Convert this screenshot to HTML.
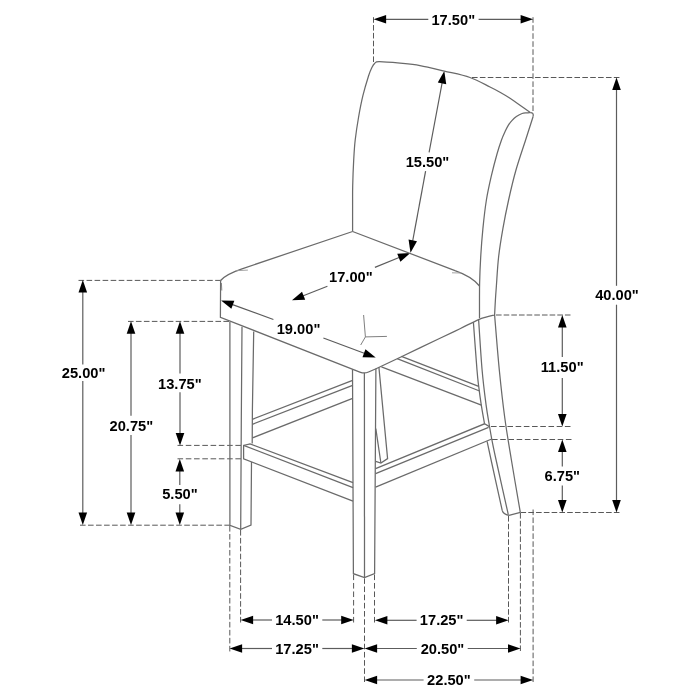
<!DOCTYPE html>
<html><head><meta charset="utf-8"><style>
html,body{margin:0;padding:0;background:#fff;}
body{width:700px;height:700px;overflow:hidden;font-family:"Liberation Sans",sans-serif;}
svg{display:block;}
svg{will-change:transform;}
</style></head><body>
<svg width="700" height="700" viewBox="0 0 700 700">
<rect width="700" height="700" fill="#fff"/>
<line x1="373.5" y1="17.2" x2="373.5" y2="62" stroke="#585858" stroke-width="1.0" stroke-dasharray="5.6 2.24"/>
<line x1="533" y1="17.2" x2="533" y2="111" stroke="#585858" stroke-width="1.0" stroke-dasharray="5.6 2.42"/>
<line x1="472" y1="77.5" x2="619.5" y2="77.5" stroke="#585858" stroke-width="1.0" stroke-dasharray="5.6 2.28"/>
<line x1="520.5" y1="512.5" x2="619.5" y2="512.5" stroke="#585858" stroke-width="1.0" stroke-dasharray="5.6 2.18"/>
<line x1="496" y1="315" x2="570.5" y2="315" stroke="#585858" stroke-width="1.0" stroke-dasharray="5.6 2.06"/>
<line x1="491" y1="426.5" x2="570.5" y2="426.5" stroke="#585858" stroke-width="1.0" stroke-dasharray="5.6 2.61"/>
<line x1="492" y1="439.5" x2="571.5" y2="439.5" stroke="#585858" stroke-width="1.0" stroke-dasharray="5.6 2.61"/>
<line x1="78.5" y1="280.4" x2="220.8" y2="280.4" stroke="#585858" stroke-width="1.0" stroke-dasharray="5.6 2.44"/>
<line x1="128" y1="321.4" x2="229" y2="321.4" stroke="#585858" stroke-width="1.0" stroke-dasharray="5.6 2.35"/>
<line x1="177.5" y1="445.4" x2="241" y2="445.4" stroke="#585858" stroke-width="1.0" stroke-dasharray="5.6 2.67"/>
<line x1="177.5" y1="458.8" x2="241" y2="458.8" stroke="#585858" stroke-width="1.0" stroke-dasharray="5.6 2.67"/>
<line x1="80" y1="525.2" x2="230" y2="525.2" stroke="#585858" stroke-width="1.0" stroke-dasharray="5.6 2.42"/>
<line x1="229.8" y1="526" x2="229.8" y2="651.5" stroke="#585858" stroke-width="1.0" stroke-dasharray="5.6 2.39"/>
<line x1="240.6" y1="530" x2="240.6" y2="622.5" stroke="#585858" stroke-width="1.0" stroke-dasharray="5.6 2.3"/>
<line x1="353.6" y1="574.5" x2="353.6" y2="622.5" stroke="#585858" stroke-width="1.0" stroke-dasharray="5.6 2.88"/>
<line x1="364.5" y1="578.3" x2="364.5" y2="682" stroke="#585858" stroke-width="1.0" stroke-dasharray="5.6 2.58"/>
<line x1="374.5" y1="574.5" x2="374.5" y2="622.5" stroke="#585858" stroke-width="1.0" stroke-dasharray="5.6 2.88"/>
<line x1="508.5" y1="516" x2="508.5" y2="622.5" stroke="#585858" stroke-width="1.0" stroke-dasharray="5.6 2.16"/>
<line x1="520.4" y1="513" x2="520.4" y2="651" stroke="#585858" stroke-width="1.0" stroke-dasharray="5.6 2.19"/>
<line x1="533.1" y1="509.5" x2="533.1" y2="682" stroke="#585858" stroke-width="1.0" stroke-dasharray="5.6 2.35"/>
<g font-family="Liberation Sans, sans-serif" font-weight="bold" font-size="14.67" fill="#000" text-anchor="middle">
<line x1="385.1" y1="19.3" x2="428.3" y2="19.3" stroke="#5c5c5c" stroke-width="1.2"/>
<line x1="478.6" y1="19.3" x2="521.6" y2="19.3" stroke="#5c5c5c" stroke-width="1.2"/>
<polygon points="373.6,19.3 386.1,15 386.1,23.6" fill="#000"/>
<polygon points="533.1,19.3 520.6,23.6 520.6,15" fill="#000"/>
<text x="453.3" y="24.5">17.50&quot;</text>
<line x1="616.5" y1="88.9" x2="616.5" y2="285.8" stroke="#5c5c5c" stroke-width="1.2"/>
<line x1="616.5" y1="304.7" x2="616.5" y2="501" stroke="#5c5c5c" stroke-width="1.2"/>
<polygon points="616.5,77.4 620.8,89.9 612.2,89.9" fill="#000"/>
<polygon points="616.5,512.5 612.2,500 620.8,500" fill="#000"/>
<text x="617" y="300.3">40.00&quot;</text>
<line x1="442.2" y1="82.41" x2="429.1" y2="152.3" stroke="#5c5c5c" stroke-width="1.2"/>
<line x1="425.6" y1="171.1" x2="412.6" y2="241.39" stroke="#5c5c5c" stroke-width="1.2"/>
<polygon points="444.3,71.1 446.24,84.18 437.79,82.6" fill="#000"/>
<polygon points="410.5,252.7 408.56,239.62 417.01,241.2" fill="#000"/>
<text x="427.45" y="166.8">15.50&quot;</text>
<line x1="302.68" y1="296.03" x2="327.4" y2="286.3" stroke="#5c5c5c" stroke-width="1.2"/>
<line x1="374.9" y1="267.4" x2="399.72" y2="257.27" stroke="#5c5c5c" stroke-width="1.2"/>
<polygon points="292,300.3 302.01,291.67 305.2,299.66" fill="#000"/>
<polygon points="410.4,253 400.39,261.63 397.2,253.64" fill="#000"/>
<text x="350.85" y="282.2">17.00&quot;</text>
<line x1="231.89" y1="304.38" x2="273.4" y2="319.5" stroke="#5c5c5c" stroke-width="1.2"/>
<line x1="323.4" y1="338" x2="364.91" y2="353.52" stroke="#5c5c5c" stroke-width="1.2"/>
<polygon points="221.1,300.4 234.32,300.7 231.34,308.76" fill="#000"/>
<polygon points="375.7,357.5 362.48,357.2 365.46,349.14" fill="#000"/>
<text x="298.55" y="334.2">19.00&quot;</text>
<line x1="562.3" y1="326.5" x2="562.3" y2="357" stroke="#5c5c5c" stroke-width="1.2"/>
<line x1="562.3" y1="378" x2="562.3" y2="414.9" stroke="#5c5c5c" stroke-width="1.2"/>
<polygon points="562.3,315 566.6,327.5 558,327.5" fill="#000"/>
<polygon points="562.3,426.4 558,413.9 566.6,413.9" fill="#000"/>
<text x="562.2" y="372">11.50&quot;</text>
<line x1="562.3" y1="451" x2="562.3" y2="466.6" stroke="#5c5c5c" stroke-width="1.2"/>
<line x1="562.3" y1="485.4" x2="562.3" y2="501" stroke="#5c5c5c" stroke-width="1.2"/>
<polygon points="562.3,439.5 566.6,452 558,452" fill="#000"/>
<polygon points="562.3,512.5 558,500 566.6,500" fill="#000"/>
<text x="562.3" y="481">6.75&quot;</text>
<line x1="82.8" y1="291.6" x2="82.8" y2="364.6" stroke="#5c5c5c" stroke-width="1.2"/>
<line x1="82.8" y1="381.1" x2="82.8" y2="513.4" stroke="#5c5c5c" stroke-width="1.2"/>
<polygon points="82.8,280.1 87.1,292.6 78.5,292.6" fill="#000"/>
<polygon points="82.8,524.9 78.5,512.4 87.1,512.4" fill="#000"/>
<text x="83.6" y="377.7">25.00&quot;</text>
<line x1="131" y1="332.7" x2="131" y2="415.8" stroke="#5c5c5c" stroke-width="1.2"/>
<line x1="131" y1="435.1" x2="131" y2="513.4" stroke="#5c5c5c" stroke-width="1.2"/>
<polygon points="131,321.2 135.3,333.7 126.7,333.7" fill="#000"/>
<polygon points="131,524.9 126.7,512.4 135.3,512.4" fill="#000"/>
<text x="131.35" y="430.8">20.75&quot;</text>
<line x1="180" y1="332.7" x2="180" y2="373.4" stroke="#5c5c5c" stroke-width="1.2"/>
<line x1="180" y1="392.2" x2="180" y2="433.9" stroke="#5c5c5c" stroke-width="1.2"/>
<polygon points="180,321.2 184.3,333.7 175.7,333.7" fill="#000"/>
<polygon points="180,445.4 175.7,432.9 184.3,432.9" fill="#000"/>
<text x="179.85" y="388.6">13.75&quot;</text>
<line x1="179.8" y1="470.5" x2="179.8" y2="485" stroke="#5c5c5c" stroke-width="1.2"/>
<line x1="179.8" y1="504.3" x2="179.8" y2="513.6" stroke="#5c5c5c" stroke-width="1.2"/>
<polygon points="179.8,459 184.1,471.5 175.5,471.5" fill="#000"/>
<polygon points="179.8,525.1 175.5,512.6 184.1,512.6" fill="#000"/>
<text x="179.9" y="499.1">5.50&quot;</text>
<line x1="252.1" y1="620" x2="272" y2="620" stroke="#5c5c5c" stroke-width="1.2"/>
<line x1="322.3" y1="620" x2="342.2" y2="620" stroke="#5c5c5c" stroke-width="1.2"/>
<polygon points="240.6,620 253.1,615.7 253.1,624.3" fill="#000"/>
<polygon points="353.7,620 341.2,624.3 341.2,615.7" fill="#000"/>
<text x="297.05" y="625.3">14.50&quot;</text>
<line x1="241.1" y1="648.5" x2="272" y2="648.5" stroke="#5c5c5c" stroke-width="1.2"/>
<line x1="322.3" y1="648.5" x2="352.9" y2="648.5" stroke="#5c5c5c" stroke-width="1.2"/>
<polygon points="229.6,648.5 242.1,644.2 242.1,652.8" fill="#000"/>
<polygon points="364.4,648.5 351.9,652.8 351.9,644.2" fill="#000"/>
<text x="297.05" y="653.9">17.25&quot;</text>
<line x1="386.4" y1="620.3" x2="416.6" y2="620.3" stroke="#5c5c5c" stroke-width="1.2"/>
<line x1="466.7" y1="620.3" x2="497.1" y2="620.3" stroke="#5c5c5c" stroke-width="1.2"/>
<polygon points="374.9,620.3 387.4,616 387.4,624.6" fill="#000"/>
<polygon points="508.6,620.3 496.1,624.6 496.1,616" fill="#000"/>
<text x="441.65" y="624.9">17.25&quot;</text>
<line x1="376.1" y1="648.5" x2="416.8" y2="648.5" stroke="#5c5c5c" stroke-width="1.2"/>
<line x1="467.7" y1="648.5" x2="509" y2="648.5" stroke="#5c5c5c" stroke-width="1.2"/>
<polygon points="364.6,648.5 377.1,644.2 377.1,652.8" fill="#000"/>
<polygon points="520.5,648.5 508,652.8 508,644.2" fill="#000"/>
<text x="442.5" y="653.6">20.50&quot;</text>
<line x1="376.1" y1="680" x2="423.6" y2="680" stroke="#5c5c5c" stroke-width="1.2"/>
<line x1="474.2" y1="680" x2="521.6" y2="680" stroke="#5c5c5c" stroke-width="1.2"/>
<polygon points="364.6,680 377.1,675.7 377.1,684.3" fill="#000"/>
<polygon points="533.1,680 520.6,684.3 520.6,675.7" fill="#000"/>
<text x="448.9" y="685">22.50&quot;</text>
</g>
<path d="M352.6,231.5 C352.6,227.08 352.58,212.63 352.6,205 C352.62,197.37 352.52,193.2 352.7,185.7 C352.88,178.2 353.28,167.62 353.7,160 C354.12,152.38 354.38,147.17 355.2,140 C356.02,132.83 357.32,124.38 358.6,117 C359.88,109.62 361.23,102.58 362.9,95.7 C364.57,88.82 367.1,80.4 368.6,75.7 C370.1,71 370.9,69.53 371.9,67.5 C372.9,65.47 373.42,64.47 374.6,63.5 C375.78,62.53 374.77,61.75 379,61.7 C383.23,61.65 393.17,62.55 400,63.2 C406.83,63.85 412.62,64.28 420,65.6 C427.38,66.92 435.97,69.12 444.3,71.1 C452.63,73.08 462.38,74.85 470,77.5 C477.62,80.15 485,84.55 490,87 C495,89.45 496.67,90.33 500,92.2 C503.33,94.07 506.67,96.03 510,98.2 C513.33,100.37 516.62,102.8 520,105.2 C523.38,107.6 528.58,111.37 530.3,112.6" stroke="#6a6a6a" stroke-width="1.25" fill="none" />
<path d="M530.3,112.6 C529.7,112.65 528.07,112.75 526.7,112.9 C525.33,113.05 523.82,112.88 522.1,113.5 C520.38,114.12 518.1,115.42 516.4,116.6 C514.7,117.78 513.23,119.18 511.9,120.6 C510.57,122.02 509.5,123.35 508.4,125.1 C507.3,126.85 506.45,128.62 505.3,131.1 C504.15,133.58 502.88,136.18 501.5,140 C500.12,143.82 498.68,148.05 497,154 C495.32,159.95 493.17,168.03 491.4,175.7 C489.63,183.37 487.82,191.18 486.4,200 C484.98,208.82 483.85,219.1 482.9,228.6 C481.95,238.1 481.25,247.72 480.7,257 C480.15,266.28 479.8,274.08 479.6,284.3 C479.4,294.52 479.52,312.63 479.5,318.3" stroke="#6a6a6a" stroke-width="1.25" fill="none" />
<path d="M530.3,112.6 Q533.7,112.5 533.2,116.2" stroke="#6a6a6a" stroke-width="1.25" fill="none" />
<path d="M533.2,116.2 C531.93,120.17 528.52,130.87 525.6,140 C522.68,149.13 518.53,161 515.7,171 C512.87,181 510.73,190.4 508.6,200 C506.47,209.6 504.57,219.1 502.9,228.6 C501.23,238.1 499.68,247.48 498.6,257 C497.52,266.52 496.93,278.53 496.4,285.7 C495.87,292.87 495.7,295.12 495.4,300 C495.1,304.88 494.73,312.5 494.6,315" stroke="#6a6a6a" stroke-width="1.25" fill="none" />
<path d="M494.6,315 C495.38,324.17 497.6,352.83 499.3,370 C501,387.17 502.78,403 504.8,418 C506.82,433 508.82,444.28 511.4,460 C513.98,475.72 518.82,503.58 520.3,512.3" stroke="#6a6a6a" stroke-width="1.25" fill="none" />
<path d="M352.6,231.5 L455,270.6 Q472,276.5 479.5,286" stroke="#6a6a6a" stroke-width="1.25" fill="none" />
<path d="M352.6,231.5 L242,268.8 C234,271.5 225,275 220.6,280.5" stroke="#6a6a6a" stroke-width="1.25" fill="none" />
<path d="M221.4,283 L221.8,290.5" stroke="#888" stroke-width="1.0" fill="none" />
<path d="M220.6,280.5 L220.4,317.3 L360.5,372.3 Q364.5,373.8 368.5,372.0 L376,368.8" stroke="#6a6a6a" stroke-width="1.25" fill="none" />
<path d="M376,368.8 C380.23,366.78 390.73,361.78 401.4,356.7 C412.07,351.62 430.23,342.97 440,338.3 C449.77,333.63 453.57,331.82 460,328.7 C466.43,325.58 474.27,321.52 478.6,319.6 C482.93,317.68 483.33,317.97 486,317.2 C488.67,316.43 493.17,315.37 494.6,315" stroke="#6a6a6a" stroke-width="1.25" fill="none" />
<g stroke="#777" stroke-width="0.9" fill="none">
<path d="M365.4,336.9 L363.6,315 M365.4,336.9 L386.9,336.4 M365.4,336.9 L360.7,345" stroke="#707070" stroke-width="0.9" fill="none" />
<path d="M235.7,270.7 L247.9,270.1" stroke="#999" stroke-width="0.9" fill="none" />
<path d="M452,272.8 L461,273" stroke="#999" stroke-width="0.9" fill="none" />
</g>
<path d="M229.9,321.7 L229.9,525.4 L240.7,529.3 L251,525 L251.5,462" stroke="#6a6a6a" stroke-width="1.25" fill="none" />
<path d="M242,326.8 L241.3,420 L240.7,529.3" stroke="#6a6a6a" stroke-width="1.25" fill="none" />
<path d="M253.7,331.5 L252.4,410 L252.2,443.5" stroke="#6a6a6a" stroke-width="1.25" fill="none" />
<path d="M252.4,419.3 L352.6,380.3" stroke="#6a6a6a" stroke-width="1.25" fill="none" />
<path d="M252.4,424.3 L352.6,385.4" stroke="#6a6a6a" stroke-width="1.25" fill="none" />
<path d="M252.4,437.9 L352.6,398.3" stroke="#6a6a6a" stroke-width="1.25" fill="none" />
<path d="M353,482.6 L250,443.8 L243.6,445.4 L243.6,458.8 L353,501.2" stroke="#6a6a6a" stroke-width="1.25" fill="none" />
<path d="M243.6,445.4 L353,487.6" stroke="#6a6a6a" stroke-width="1.25" fill="none" />
<path d="M352.5,369.6 L353.4,573.7 L364.5,577.6 L374.6,573.5 L375.9,368.5" stroke="#6a6a6a" stroke-width="1.25" fill="none" />
<path d="M364.4,372.9 L364.5,577.6" stroke="#6a6a6a" stroke-width="1.25" fill="none" />
<path d="M378.9,367.1 L387.6,458.6 L380.9,463 L375.7,461.4" stroke="#6a6a6a" stroke-width="1.25" fill="none" />
<path d="M375.8,428.6 L380.9,463" stroke="#6a6a6a" stroke-width="1.25" fill="none" />
<path d="M401.4,356.3 L478.7,386.3" stroke="#6a6a6a" stroke-width="1.25" fill="none" />
<path d="M397.1,358.7 L479.6,391" stroke="#6a6a6a" stroke-width="1.25" fill="none" />
<path d="M381.4,366.8 L481.4,405.1" stroke="#6a6a6a" stroke-width="1.25" fill="none" />
<path d="M375.6,468.6 L484.5,423.8 L489.4,426.6" stroke="#6a6a6a" stroke-width="1.25" fill="none" />
<path d="M375.6,473.6 L488.6,427.4" stroke="#6a6a6a" stroke-width="1.25" fill="none" />
<path d="M375.6,487.1 L491.7,439" stroke="#6a6a6a" stroke-width="1.25" fill="none" />
<path d="M473.4,322.3 C474,330.25 476.12,359.33 477,370 C477.88,380.67 477.98,380.45 478.7,386.3 C479.42,392.15 480.33,398.88 481.3,405.1 C482.27,411.32 483.97,420.52 484.5,423.6" stroke="#6a6a6a" stroke-width="1.25" fill="none" />
<path d="M487.1,441.3 C487.77,444.42 488.58,448.5 491.1,460 C493.62,471.5 500.35,501.92 502.2,510.3" stroke="#6a6a6a" stroke-width="1.25" fill="none" />
<path d="M502.2,510.3 Q503.1,514.1 509,515.3" stroke="#6a6a6a" stroke-width="1.25" fill="none" />
<path d="M478.6,319.4 C479.18,327.83 480.87,355.85 482.1,370 C483.33,384.15 484.78,395.02 486,404.3 C487.22,413.58 488.43,419.87 489.4,425.7 C490.37,431.53 490.68,433.58 491.8,439.3 C492.92,445.02 493.35,447.45 496.1,460 C498.85,472.55 506.27,505.5 508.3,514.6" stroke="#6a6a6a" stroke-width="1.25" fill="none" />
<path d="M509,515.3 L520.4,512.4" stroke="#6a6a6a" stroke-width="1.25" fill="none" />
</svg>
</body></html>
